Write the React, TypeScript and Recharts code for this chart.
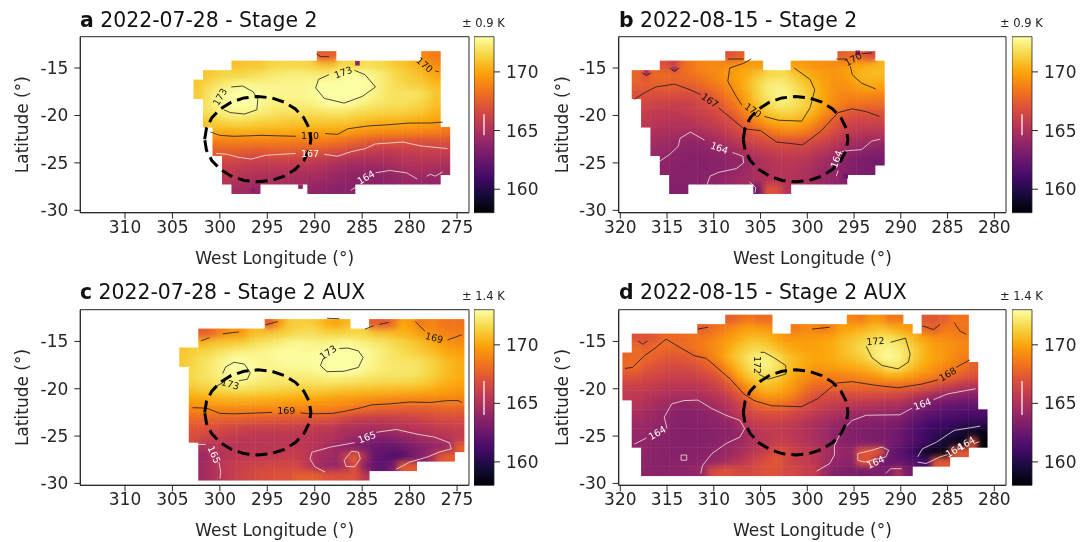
import React from "react";
import {
  ScatterChart,
  Scatter,
  XAxis,
  YAxis,
  ReferenceArea,
  ReferenceDot,
} from "recharts";

type Pair = number[];
type Note = [string, number, number, number];

const FONT = "'DejaVu Sans', sans-serif";
const INK = "#262626";

// inferno, evenly spaced over the colour bar
const infernoStops = ["#000004", "#160b39", "#420a68", "#6a176e", "#932667", "#bc3754", "#dd513a", "#f37819", "#fca50a", "#f6d746", "#fcffa4"];
const tempMin = 158;
const tempMax = 173;
const barTicks = [160, 165, 170];
const latTicks = [-30, -25, -20, -15];
const lonTicksAC = [310, 305, 300, 295, 290, 285, 280, 275];
const lonTicksBD = [320, 315, 310, 305, 300, 295, 290, 285, 280];

// dashed ring, offsets from its centre in degrees
const ringLon = [5.6, 5.41, 4.85, 3.96, 2.8, 1.45, 0, -1.45, -2.8, -3.96, -4.85, -5.41, -5.6, -5.41, -4.85, -3.96, -2.8, -1.45, 0, 1.45, 2.8, 3.96, 4.85, 5.41, 5.6];
const ringLat = [0, 1.16, 2.25, 3.18, 3.9, 4.35, 4.5, 4.35, 3.9, 3.18, 2.25, 1.16, 0, -1.16, -2.25, -3.18, -3.9, -4.35, -4.5, -4.35, -3.9, -3.18, -2.25, -1.16, 0];

// ---- panel a
const aLons = [302.25, 301.25, 300.25, 299.25, 298.25, 297.25, 296.25, 295.25, 294.25, 293.25, 292.25, 291.25, 290.25, 289.25, 288.25, 287.25, 286.25, 285.25, 284.25, 283.25, 282.25, 281.25, 280.25, 279.25, 278.25, 277.25, 276.25];
const aLats = [-13.75, -14.75, -15.75, -16.75, -17.75, -18.75, -19.75, -20.75, -21.75, -22.75, -23.75, -24.75, -25.75, -26.75, -27.75];
const aTemps = [
  [0,0,0,0,0,0,0,0,0,0,0,0,0,167.5,167.5,0,0,0,0,0,0,0,0,0,169,168.5,0],
  [0,0,0,0,170.8,171,171,171.2,171.5,171.5,171.5,171.5,171.3,171,170.8,171.5,171.5,171.6,171.8,171.6,171.4,171,170.8,170.4,169.8,169.2,0],
  [0,171,171.3,171.5,171.5,171.6,171.8,172,172.2,172.3,172.4,172.4,172.3,172.3,172.5,172.7,173,172.9,172.7,172.4,172,171.5,171.2,171,170.5,170,0],
  [171,171.6,172,172.3,172.6,172.7,172.6,172.6,172.6,172.6,172.6,172.6,172.7,173,173.2,173.3,173.2,173.1,172.9,172.4,172,171.7,171.4,171.2,171,170.6,0],
  [171.2,172,172.6,172.9,173.1,173.2,173.1,172.8,172.7,172.7,172.7,172.7,172.8,173.1,173.3,173.3,173.2,173,172.7,172.4,172,171.9,172,172,171.6,171,0],
  [0,172,172.6,172.9,173.2,173.2,173,172.6,172.4,172.4,172.4,172.4,172.5,172.8,173,173.1,172.9,172.6,172.3,172.1,171.9,171.8,171.8,171.6,171.3,170.8,0],
  [0,171.8,172.3,172.5,172.7,172.6,172.4,172.2,172,171.9,171.9,171.8,171.8,171.9,172,172,171.8,171.6,171.5,171.4,171.3,171.3,171.2,171,170.8,170.4,0],
  [0,171,171.3,171.5,171.6,171.5,171.4,171.3,171.2,171.1,171,171,171,171,171,171,170.9,170.7,170.5,170.4,170.3,170.3,170.2,170.1,170,169.8,0],
  [0,0,170.3,170.2,170.3,170.3,170.3,170.2,170.2,170.2,170.1,170.1,170,170,170,169.9,169.7,169.5,169.4,169.2,169.2,169.1,169,169,168.9,168.8,168.5],
  [0,0,168.7,168.8,168.8,168.8,168.8,168.8,168.7,168.7,168.7,168.6,168.6,168.6,168.5,168.3,168,167.7,167.4,167.2,167.1,167.1,167,167,167,167,167],
  [0,0,167.5,167.6,167.6,167.5,167.4,167.4,167.5,167.5,167.5,167.4,167.3,167.2,167,166.8,166.5,166.2,166,165.8,165.7,165.8,165.9,166,166,166,166],
  [0,0,0,166.5,166.4,166.2,166.1,166.1,166.2,166.2,166.1,166,165.9,165.7,165.4,165.1,165,164.9,164.8,164.9,165,165.2,165.3,165.3,165.3,165.3,165.2],
  [0,0,0,165.8,165.7,165.5,165.4,165.3,165.3,165.3,165.2,165.1,165,164.8,164.6,164.4,164.2,164.2,164.1,164.2,164.3,164.5,164.8,164.8,164.8,164.6,164.6],
  [0,0,0,165.4,165.2,165,164.9,164.8,164.8,164.8,164.7,164.6,164.5,164.4,164.2,164,163.8,163.7,163.7,163.7,163.8,164,164.2,164.2,164,164,0],
  [0,0,0,0,164.5,164.5,164,0,0,0,0,0,163.9,163.8,163.7,163.6,163.6,0,0,0,0,0,0,0,0,0,0],
];
const aSpots: Pair[] = [[285.5,-14.5,164],[296.5,-27.9,163.5],[291.5,-27.5,164]];
const aDark: Pair[][] = [
  [[301,-21.74],[300,-22.1],[298.5,-22.2],[295.6,-22.1],[292,-22.2]],
  [[288.9,-21.9],[287.6,-22],[286.5,-21.4],[284.3,-21.1],[282.5,-21],[280,-20.8],[277.8,-20.8],[276.5,-20.7]],
  [[298.8,-17],[297.6,-16.9],[296.5,-17.5],[296,-18.3],[296.1,-19.4],[297.4,-19.85],[298.9,-19.7],[299.6,-19.4]],
  [[288.5,-15.7],[289.6,-16.2],[289.9,-17.1],[289,-18.2],[286.9,-18.7],[285,-18],[283.6,-17],[284.7,-15.7],[285.8,-15.25]],
  [[277.3,-15.3],[276.9,-15.4]],
  [[289.8,-13.5],[289.4,-13.8],[288.5,-13.8]],
];
const aLight: Pair[][] = [
  [[300.4,-24],[299.2,-24.1],[298.1,-24.4],[296.7,-24.6],[295.2,-24.2],[292,-24]],
  [[289,-24.1],[287.6,-24.3],[286.1,-23.8],[284.7,-23.5],[283.6,-23],[280.7,-22.8],[278.9,-23.2],[276,-23.5]],
  [[286.2,-27.9],[285.6,-27.5]],
  [[283.6,-26.05],[282.1,-25.8],[280.3,-26.05],[279.2,-26.7]],
  [[278.2,-26.4],[277.8,-26.2],[277.3,-26.4],[276.5,-25.95]],
];
const aDarkNotes: Note[] = [["173",300,-18.05,-60],["173",287,-15.45,-20],["170",278.4,-14.65,40],["170",290.5,-22.1,0]];
const aLightNotes: Note[] = [["167",290.5,-24.05,0],["164",284.6,-26.5,-30]];

// ---- panel b
const bLons = [318.25, 317.25, 316.25, 315.25, 314.25, 313.25, 312.25, 311.25, 310.25, 309.25, 308.25, 307.25, 306.25, 305.25, 304.25, 303.25, 302.25, 301.25, 300.25, 299.25, 298.25, 297.25, 296.25, 295.25, 294.25, 293.25, 292.25];
const bLats = [-13.75, -14.75, -15.75, -16.75, -17.75, -18.75, -19.75, -20.75, -21.75, -22.75, -23.75, -24.75, -25.75, -26.75, -27.75];
const bTemps = [
  [0,0,0,0,0,0,0,0,0,0,167,167.5,0,0,0,0,0,0,0,0,0,0,167.5,168,167.5,166.5,0],
  [0,0,0,167,166,168,168.5,169,169,169,169.3,169.6,169.7,169.6,0,0,0,169.8,169.6,169.4,169.3,169.2,169.5,169.9,170,170.3,170.5],
  [167.8,167,168,168,167.8,168,168.3,168.6,169,169.3,169.7,170,170.4,171,171.5,171.7,171.6,171,170.5,170.1,169.7,169.5,169.6,170,170.5,170.7,170.6],
  [167.6,167.5,167.6,167.6,167.6,167.5,167.6,168,168.4,168.8,169.3,169.8,170.6,171.5,172.2,172.4,172.2,171.7,171.1,170.5,169.9,169.4,169.3,169.6,170,170.2,170.1],
  [166.8,166.8,166.9,167,166.9,166.8,166.8,167,167.5,168.2,168.8,169.4,170.4,171.4,172.2,172.5,172.5,172,171.4,170.7,170,169.4,169,169,169.2,169.2,169],
  [0,166.5,166.2,166.2,166.1,166.1,166.2,166.5,166.9,167.4,168.2,169,170,171,171.8,172.2,172.2,171.9,171.4,170.8,170,169.2,168.7,168.4,168.3,168.2,168.1],
  [0,165.9,165.7,165.7,165.6,165.7,165.9,166.1,166.4,166.8,167.4,168.2,169.3,170.2,170.9,171.3,171.5,171.3,170.9,170.3,169.4,168.5,167.6,167.1,167,167,167],
  [0,165.6,165.4,165.3,165.2,165.2,165.4,165.6,165.9,166.1,166.6,167.3,168.2,169,169.7,170.1,170.3,170.3,169.9,169.2,168.3,167.4,166.8,166.3,166.2,166.2,166.2],
  [0,0,165,164.9,164.8,164.7,164.7,164.9,165.2,165.5,166,166.5,167,167.6,168.2,168.7,169,168.9,168.6,168,167.3,166.7,166.1,165.7,165.5,165.4,165.4],
  [0,0,164.6,164.5,164.3,164,163.9,164,164.3,164.8,165.2,165.7,166.2,166.5,166.8,167,167,167,166.9,166.6,166.3,165.8,165.3,164.9,164.6,164.4,164.3],
  [0,0,164.2,164.1,163.9,163.7,163.6,163.7,163.9,164,164.3,164.7,165.2,165.6,165.9,166.1,166.2,166.1,166,165.7,165.4,164.9,164.4,164,163.8,163.6,163.4],
  [0,0,0,163.9,163.7,163.6,163.5,163.5,163.6,163.7,163.9,164,164.3,164.8,165.2,165.4,165.5,165.5,165.3,165,164.6,164.2,163.8,163.4,163.2,163,162.9],
  [0,0,0,163.8,163.6,163.5,163.5,163.5,163.6,163.7,163.9,164.1,164.4,164.8,165.1,165.2,165.3,165.2,165,164.7,164.3,164,163.6,163.4,163.2,163,0],
  [0,0,0,0,163.5,163.5,163.5,163.6,163.8,164,164.2,164.4,164.6,164.9,165.1,165.2,165.2,165.1,164.9,164.5,164.2,164,163.6,0,0,0,0],
  [0,0,0,0,163.4,163.4,0,0,0,0,0,0,0,162.5,167,167,165.2,0,0,0,0,0,0,0,0,0,0],
];
const bSpots: Pair[] = [[294.6,-13.4,163.5],[295.9,-26.4,162.5],[317.2,-15.5,165],[314.2,-15.1,165]];
const bDark: Pair[][] = [
  [[318.5,-18.3],[317.4,-17.6],[316.2,-17],[314.2,-16.7],[312.5,-17.3],[311.4,-17.8]],
  [[309.5,-19.2],[308,-20.4],[306.8,-21.4],[305,-21.6],[303.3,-22.8],[300.5,-23.1],[298.6,-21.7],[296.7,-19.7],[295.2,-19.3],[293.7,-19.6],[292.3,-20.1]],
  [[306,-14.05],[306.8,-14.5],[308.3,-15],[308.5,-16.4],[307.6,-18],[307,-18.9]],
  [[304.6,-20.1],[303.1,-20.5],[300.6,-20.6],[299.7,-19.2],[299.2,-17.3],[299.7,-16.2],[301.4,-15]],
  [[295.4,-14.8],[295.2,-15.7],[294.2,-16.6],[292.7,-17.2]],
  [[308.5,-14.05],[306.8,-14.05]],
  [[296.9,-14.05],[295.8,-14.05]],
  [[294.2,-13.5],[293.1,-13.4]],
  [[317.7,-15.5],[317.2,-15.8],[316.7,-15.5]],
  [[314.7,-15],[314.2,-15.35],[313.7,-15]],
];
const bLight: Pair[][] = [
  [[315.9,-24.9],[314.7,-24.1],[313.8,-23.25],[313.6,-22.4],[312.5,-21.75],[311,-22.6]],
  [[308,-23.9],[306.9,-24.3],[306.8,-25],[307.6,-25.6],[309.5,-26],[310.4,-26.4],[310.8,-27.5]],
  [[296.9,-26.4],[296.7,-25.8]],
  [[296.3,-23.8],[295.6,-23.7],[294.2,-23.6],[293.1,-22.7],[292.2,-22.5]],
  [[306.2,-27],[305.5,-27.6],[305.6,-28.15]],
];
const bDarkNotes: Note[] = [["167",310.4,-18.4,35],["170",305.8,-19.45,35],["170",295.1,-14.05,-30]];
const bLightNotes: Note[] = [["164",309.4,-23.4,20],["164",296.9,-24.6,-70]];

// ---- panel c
const cLons = [303.75, 302.75, 301.75, 300.75, 299.75, 298.75, 297.75, 296.75, 295.75, 294.75, 293.75, 292.75, 291.75, 290.75, 289.75, 288.75, 287.75, 286.75, 285.75, 284.75, 283.75, 282.75, 281.75, 280.75, 279.75, 278.75, 277.75, 276.75, 275.75, 274.75];
const cLats = [-13.17, -14.17, -15.17, -16.17, -17.17, -18.17, -19.17, -20.17, -21.17, -22.17, -23.17, -24.17, -25.17, -26.17, -27.17, -28.17, -29.17];
const cTemps = [
  [0,0,0,0,0,0,0,0,0,167.5,169.5,171,171.2,171.3,171,170.3,170,170.5,0,0,167.5,167.3,168,170,169.5,168.5,169,168.5,168.3,168.3],
  [0,0,167.5,168,169,169.5,169.5,170.5,170.8,171,171.2,171.5,171.7,171.8,171.7,171.5,171.4,171.5,171.5,171.4,171,170.8,170.6,170.5,170.2,169.7,169.3,169,168.8,168.7],
  [0,0,170.5,170.8,171,171.1,171.2,171.6,171.9,172.1,172.3,172.6,172.7,172.6,172.5,172.5,172.6,172.8,172.6,172.4,172.2,172,171.7,171.4,171.1,170.7,170.3,169.8,169.4,169.2],
  [171,171.3,171.5,171.7,172,172.3,172.5,172.5,172.6,172.7,172.9,172.9,172.9,172.8,172.9,173.2,173.3,173.3,173.2,172.9,172.6,172.3,172,171.7,171.4,171.1,170.8,170.4,170,169.8],
  [171.1,171.5,171.9,172.2,172.6,173,173.2,172.9,172.7,172.7,172.8,172.9,172.9,172.9,173,173.3,173.4,173.4,173.2,172.9,172.6,172.3,172.1,172,172,171.8,171.4,171,170.5,170.2],
  [0,171.6,171.9,172.2,172.6,173.1,173.2,173,172.7,172.5,172.5,172.6,172.6,172.6,172.7,172.9,173.1,173,172.9,172.6,172.4,172.2,172.1,172.1,172.1,171.8,171.5,171,170.6,170.3],
  [0,171.5,171.8,172,172.3,172.6,172.7,172.5,172.3,172.2,172.1,172.2,172.1,172.1,172.1,172.2,172.2,172.1,172,171.9,171.8,171.7,171.7,171.7,171.6,171.4,171.1,170.7,170.4,170.1],
  [0,170.9,171.1,171.3,171.6,171.7,171.8,171.7,171.6,171.5,171.4,171.3,171.2,171.2,171.2,171.1,171,170.9,170.8,170.7,170.7,170.6,170.6,170.5,170.5,170.4,170.2,170,169.8,169.6],
  [0,170,170.1,170.2,170.4,170.4,170.4,170.4,170.3,170.2,170.2,170.1,170,170,170,169.8,169.6,169.6,169.5,169.3,169.2,169.1,169,169,168.9,168.9,168.9,168.9,168.9,168.8],
  [0,169,169,169,169,169,169,169,169,169,169,168.9,168.9,168.9,168.8,168.8,168.7,168.5,168.2,168,167.8,167.7,167.6,167.5,167.5,167.5,167.6,167.7,167.8,167.7],
  [0,168,167.9,167.8,167.7,167.7,167.7,167.6,167.5,167.4,167.4,167.3,167.3,167.2,167.1,167.1,166.8,166.4,166,165.9,165.8,165.8,165.9,166,166.1,166.3,166.5,166.7,166.7,166.7],
  [0,167.2,167,166.8,166.6,166.4,166.2,166.1,166,166,166,166,165.9,165.8,165.7,165.6,165.4,165,165,164.8,164.8,165,165.1,165.2,165.3,165.5,165.6,165.8,165.9,166],
  [0,166.7,166.4,166.1,165.9,165.7,165.6,165.5,165.4,165.4,165.4,165.4,165.4,165.4,165.3,165.2,165,164.6,164.2,163.8,163.5,163.4,163.6,163.9,164.2,164.6,164.9,165.1,165.3,165.7],
  [0,0,165,165.3,165.3,165.3,165.4,165.4,165.4,165.4,165.5,165.6,165.6,165.5,165.3,164.8,164.2,163.8,163.4,163,162.6,162.4,162.4,162.7,163.2,163.5,163.8,164,164.6,167.5],
  [0,0,164.3,164.8,165.2,165.5,165.6,165.7,165.6,165.7,165.8,165.9,165.9,165.5,164.8,164.6,164.3,166,167.5,165,162.4,162,161.6,161.6,162.6,163.5,164.5,167,167.5,0],
  [0,0,164.5,165,165.5,165.8,166,166.2,166.3,166.5,166.5,166.5,166.3,165.5,164.5,164.1,164,165,167,163.5,162.5,162,163,167.3,167.3,0,0,0,0,0],
  [0,0,164.5,165,165.4,165.8,166.2,166.5,166.7,166.9,167,167,167.5,167.5,167.5,167,167,167,167,165.5,0,0,0,0,0,0,0,0,0,0],
];
const cSpots: Pair[] = [];
const cDark: Pair[][] = [
  [[302.9,-22],[301.4,-22.05],[300,-22.6],[298.5,-22.65],[297.1,-22.6],[294.5,-22.5]],
  [[291.5,-22.55],[290.5,-22.65],[288.1,-22.6],[286.9,-22.4],[285.1,-22],[284,-21.7],[282.1,-21.6],[280,-21.4],[277.8,-21.45],[276,-21.25],[274.9,-21.25],[274.5,-21.45]],
  [[299.7,-18.4],[299.4,-17.7],[298.5,-17.2],[297.4,-17.4],[296.8,-18.3],[297.1,-19],[298,-19.15]],
  [[299.6,-19.3],[300.3,-19.7]],
  [[289.1,-16.8],[289.4,-17.55],[288.7,-18.2],[286.9,-18.15],[285.4,-17.75],[284.9,-16.7],[285.4,-16],[286.5,-15.7],[287.4,-15.75]],
  [[279.4,-12.9],[278.4,-13.9]],
  [[276,-14.85],[274.5,-14.3]],
  [[302,-14.95],[301.1,-14.6]],
  [[299.7,-14.2],[298,-14]],
  [[295.2,-13.25],[293.9,-12.9]],
  [[288.7,-12.55],[287.4,-12.6]],
  [[284.7,-13.7],[283.8,-13.35]],
  [[283.2,-13.2],[282.2,-13]],
];
const cLight: Pair[][] = [
  [[302.6,-25.85],[301.5,-25.9]],
  [[300.1,-27.75],[299.9,-28.8],[300,-29.5]],
  [[285.8,-25.7],[288.3,-26.15],[290.3,-26.7],[290.5,-27.4],[290,-28.25],[288.9,-28.8]],
  [[283.5,-24.6],[281.4,-24.3],[279.2,-24.8],[277.4,-25.1],[275.8,-25.7],[275.6,-26.35],[276.9,-26.7],[278.1,-27.2],[280,-27.75],[281.4,-28.5]],
  [[286.1,-26.6],[285.4,-26.7],[285.2,-27.4],[285.8,-28.25],[286.7,-28.2],[286.9,-27.55],[286.1,-26.6]],
];
const cDarkNotes: Note[] = [["173",298.9,-19.5,15],["173",288.6,-16.15,-35],["169",277.4,-14.6,15],["169",293,-22.35,0]];
const cLightNotes: Note[] = [["165",300.6,-26.95,65],["165",284.5,-25.1,-20]];

// ---- panel d
const dLons = [319.25, 318.25, 317.25, 316.25, 315.25, 314.25, 313.25, 312.25, 311.25, 310.25, 309.25, 308.25, 307.25, 306.25, 305.25, 304.25, 303.25, 302.25, 301.25, 300.25, 299.25, 298.25, 297.25, 296.25, 295.25, 294.25, 293.25, 292.25, 291.25, 290.25, 289.25, 288.25, 287.25, 286.25, 285.25, 284.25, 283.25, 282.25, 281.25];
const dLats = [-12.7, -13.7, -14.7, -15.7, -16.7, -17.7, -18.7, -19.7, -20.7, -21.7, -22.7, -23.7, -24.7, -25.7, -26.7, -27.7, -28.7];
const dTemps = [
  [0,0,0,0,0,0,0,0,0,0,0,167.5,168,168.5,168,168,0,0,0,0,0,0,0,0,169,168.5,169.5,169.5,168.5,168.5,0,0,167.3,167.3,167.5,168.5,168.3],
  [0,0,0,0,0,0,0,0,167.5,168,168.5,169,169.5,169.8,169.8,169.5,0,0,168.5,169,169,168.5,169,169.8,170,170.3,170.6,170.8,170.6,170.2,169.6,0,167.8,167.5,168.5,168.5,168.2],
  [0,167,167,167.3,168,168,168,168.3,168.5,168.8,169.3,169.7,170.2,170.6,170.7,170.5,170,169.5,169.6,169.6,169.7,169.8,170,170.5,170.9,171.2,171.6,171.9,171.9,171.5,171,170.3,169.8,169.4,169.2,169,168.8],
  [0,168,167.6,168,167.9,167.8,168,168.2,168.6,169,169.5,170.2,170.9,171.4,171.5,171.3,170.7,170.2,170,169.8,169.8,170,170.2,170.7,171.1,171.6,172,172.4,172.5,172.3,171.7,171,170.3,169.7,169.5,169.3,169],
  [167.8,168,167.9,167.6,167.3,167.2,167.3,167.5,168,168.8,169.5,170.5,171.3,172,172.4,172.4,171.8,171,170.5,170.2,170,170,170.2,170.5,170.9,171.2,171.8,172.5,172.8,172.5,171.8,171,170.3,169.8,169.5,169.1,168.6],
  [167.9,168,167.2,167,166.7,166.6,166.6,166.8,167.2,167.7,168.5,169.7,170.8,171.7,172.3,172.5,172,171.1,170.5,170,169.7,169.7,169.8,170,170.2,170.4,170.7,171.2,172,172,171.2,170.5,170,169.4,169,168.7,168.2,167.6],
  [167,167,166.6,166.5,166.2,166,166,166.1,166.4,166.7,167.4,168.6,170,171,171.6,171.7,171.3,170.6,169.9,169.4,169,168.8,168.7,168.8,169,169.2,169.4,169.8,170.2,170.2,169.8,169.4,169,168.6,168.2,167.8,167.3,167],
  [166.2,166.2,166,165.8,165.6,165.5,165.5,165.5,165.7,166,166.4,167.3,168.5,169.7,170.5,170.8,170.6,170.1,169.4,168.6,168,167.9,168,168,168,168,168,168,168,168,167.9,167.7,167.3,166.8,166.3,165.9,165.5,165.2],
  [165.6,165.6,165.4,165.2,165,164.9,164.8,164.9,165,165.3,165.6,166.2,167.2,168.3,169.3,169.8,169.7,169.3,168.7,167.7,167,166.8,166.7,166.7,166.7,166.7,166.7,166.6,166.6,166.4,166,165.5,165,164.5,164.1,163.9,163.6,163.5],
  [0,165.3,165,164.7,164.4,164.1,163.9,164,164.2,164.5,165,165.4,166.2,167.1,167.9,168.2,168.2,168,167.4,166.9,166.5,166.1,165.9,165.7,165.6,165.5,165.3,165.2,165,164.9,164.4,163.8,163.2,162.8,162.6,162.4,162.3,162.3],
  [0,164.8,164.6,164.3,164,163.7,163.5,163.6,163.7,163.8,164.2,164.9,165.6,166.2,166.6,166.8,166.9,166.7,166.3,166,165.6,165.3,165,164.7,164.4,164.2,164.1,164,164,163.9,163.2,162.6,162.2,161.9,161.7,161.5,161.4,161.4,161.5],
  [0,164.4,164.2,164,163.8,163.6,163.5,163.5,163.6,163.7,163.8,163.9,164.7,165.6,165.9,166,166,165.9,165.6,165.2,165,164.6,164.2,163.9,163.6,163.5,163.4,163.4,163.3,163,162.5,161.8,161.3,161,160.9,160.7,160.5,160.4,160.2],
  [0,164.1,164,163.8,163.7,163.5,163.5,163.4,163.4,163.5,163.6,163.7,164,164.8,165.3,165.6,165.7,165.6,165.4,165.1,164.8,164.4,163.9,163.6,163.4,163.3,163.2,163.1,163,162.7,162,161.4,160.9,160.5,160.2,159.7,159.2,158.8,158.5],
  [0,164,163.9,163.7,163.6,163.5,163.4,163.4,163.5,163.6,163.8,164,164.4,164.8,165.2,165.6,166,165.9,165.6,165.3,165,164.6,164,163.7,163.5,163.4,163.3,163.2,163,162.7,162,161.4,160.8,160,159.3,158.8,158.5,167,158.2],
  [0,0,163.9,163.7,163.6,163.5,163.5,163.5,163.6,163.8,164,164.3,164.7,165.2,165.7,166.2,166.9,166.6,166.1,165.8,165.5,164.9,164.4,164.1,163.9,167,167.2,167.3,162.8,162,161.4,160.4,159,158.6,158.4,167,167.3],
  [0,0,163.7,163.6,163.6,163.6,163.7,163.7,163.8,164,164.3,164.8,165.3,165.9,166.5,167,167.3,166.5,166,165.8,165.5,164.8,164,163.8,163.6,167,167,163,162.5,162.3,162,161.6,160.8,167,167.2],
  [0,0,163.7,163.7,163.7,163.7,163.8,163.9,164,166.5,167,167,166.5,166.5,166.8,167,167,166.5,166.5,166,165.8,164.5,163.5,163.3,163.2,163,163,163.2,163.2,165,163],
];
const dSpots: Pair[] = [];
const dDark: Pair[][] = [
  [[319.5,-17.85],[318.7,-17.75],[317.4,-16.5],[316.2,-15.65],[315.1,-14.75],[313.6,-15.65],[312.1,-16.5],[310.8,-16.8],[309.5,-17.9],[308.2,-19],[306.8,-20.55],[305.7,-21.25],[303.8,-21.8],[300.6,-21.9],[298.9,-21.05],[296.9,-19.4],[295.2,-19.25],[292.6,-19.65],[290.3,-19.9],[287.7,-19.5],[286,-19.05]],
  [[284.1,-17.75],[282.6,-16.95]],
  [[291.1,-15.1],[289.5,-14.65],[289,-16.35],[289.2,-17.2],[290.3,-17.9],[292,-17.55],[293.1,-16.7],[293.7,-15.5]],
  [[305,-16.15],[304.6,-16.15],[303.6,-16.7],[302.3,-17.55],[302.3,-18.45],[304.2,-19],[305.2,-18.45]],
  [[311.7,-13.7],[310.6,-13.5]],
  [[299.5,-13.7],[297.6,-13.5]],
  [[287.7,-13.35],[286.5,-13.75],[285.8,-13.2]],
  [[284.3,-13],[283.7,-13.9],[283,-14.25]],
  [[318.1,-14.95],[317.6,-15.3],[317.1,-14.95]],
];
const dLight: Pair[][] = [
  [[318.5,-25.85],[317.2,-25.2]],
  [[315,-24.2],[315.3,-23],[314.5,-21.6],[313.2,-21.25],[311.7,-21.2],[310.2,-22.1],[308.7,-22.8],[307.2,-23.35],[306.7,-24.2],[307.2,-25.1],[308.7,-25.8],[310.2,-26.85],[311.2,-28.1],[311.4,-28.95]],
  [[299,-28.7],[297.6,-27.9],[297.1,-27],[297.1,-26],[296.3,-24.4],[295.2,-23.35],[293.7,-22.8],[290.1,-22.75],[288.8,-22.05]],
  [[286.5,-21.15],[285,-20.55],[282,-20]],
  [[294.6,-26.85],[293.1,-26.5],[292,-26.15],[291.3,-26.5],[291.6,-27.2],[293.9,-27.75],[294.6,-27.55],[294.6,-26.85]],
  [[288.2,-27.2],[287.7,-26.35],[286.2,-25.65],[284.3,-24.4],[281.5,-23.95]],
  [[288.2,-27.75],[287.3,-27.9],[285.8,-27.2],[285,-26.95]],
  [[282.2,-25.8],[281.6,-25.6]],
  [[313.5,-27],[312.9,-27],[312.9,-27.55],[313.5,-27.55],[313.5,-27]],
  [[291.6,-28.95],[291.1,-28.45],[289.9,-28.45]],
];
const dDarkNotes: Note[] = [["172",292.7,-14.95,-5],["172",305.3,-17.5,90],["168",285,-18.45,-30]];
const dLightNotes: Note[] = [["164",316.05,-24.65,-30],["164",287.7,-21.6,-20],["164",292.7,-27.75,-25],["164",284.3,-26.5,-30],["164",283,-25.75,-30]];

function inferno(t: number) {
  const u = Math.max(0, Math.min(1, (t - tempMin) / (tempMax - tempMin))) * (infernoStops.length - 1);
  const i = Math.min(Math.floor(u), infernoStops.length - 2);
  const a = infernoStops[i];
  const b = infernoStops[i + 1];
  const mix = (s: number) => {
    const p = parseInt(a.slice(s, s + 2), 16);
    const q = parseInt(b.slice(s, s + 2), 16);
    return Math.round(p + (q - p) * (u - i));
  };
  return `rgb(${mix(1)},${mix(3)},${mix(5)})`;
}

function buildCells(lons: number[], lats: number[], rows: number[][]) {
  const cells: { lon: number; lat: number; temp: number }[] = [];
  rows.forEach((row, r) =>
    row.forEach((temp, c) => {
      if (temp > 0) cells.push({ lon: lons[c], lat: lats[r], temp });
    })
  );
  return cells;
}

const toPoints = (line: Pair[]) => line.map(([lon, lat]) => ({ lon, lat }));
const NoPoint = () => <g />;

const SpotShape = (s: any) => (
  <rect x={s.cx - 2.3} y={s.cy - 2.3} width={4.6} height={4.6} fill={inferno(s.payload.temp)} />
);

interface PanelProps {
  left: number;
  top: number;
  width: number;
  height: number;
  axisWidth: number;
  axisHeight: number;
  plotTop: number;
  rightGap: number;
  labelGap: number;
  lonDomain: [number, number];
  latDomain: [number, number];
  lonTicks: number[];
  lons: number[];
  lats: number[];
  temps: number[][];
  spots: Pair[];
  dark: Pair[][];
  light: Pair[][];
  darkNotes: Note[];
  lightNotes: Note[];
  ringCentre: number;
}

function Panel(p: PanelProps) {
  const cells = buildCells(p.lons, p.lats, p.temps);
  const spots = p.spots.map(([lon, lat, temp]) => ({ lon, lat, temp }));
  const plotW = p.width - p.axisWidth - p.rightGap;
  const plotH = p.height - p.plotTop - p.axisHeight;
  const cellW = plotW / (p.lonDomain[1] - p.lonDomain[0]);
  const cellH = plotH / (p.latDomain[1] - p.latDomain[0]);
  const ring = ringLon.map((d, i) => ({ lon: p.ringCentre + d, lat: -22.5 + ringLat[i] }));

  const CellShape = (s: any) => (
    <rect
      x={s.cx - cellW / 2 - 0.25}
      y={s.cy - cellH / 2 - 0.25}
      width={cellW + 0.5}
      height={cellH + 0.5}
      fill={inferno(s.payload.temp)}
    />
  );

  const note = (n: Note, colour: string) => (
    <ReferenceDot
      key={`${n[0]}-${n[1]}`}
      x={n[1]}
      y={n[2]}
      r={0}
      ifOverflow="visible"
      shape={(s: any) => (
        <text
          x={s.cx}
          y={s.cy}
          transform={`rotate(${n[3]} ${s.cx} ${s.cy})`}
          textAnchor="middle"
          dominantBaseline="central"
          fontSize={9.5}
          fontFamily={FONT}
          fill={colour}
        >
          {n[0]}
        </text>
      )}
    />
  );

  return (
    <div style={{ position: "absolute", left: p.left, top: p.top }}>
      <ScatterChart
        width={p.width}
        height={p.height}
        margin={{ top: p.plotTop, right: p.rightGap, bottom: 0, left: 0 }}
      >
        <XAxis
          type="number"
          dataKey="lon"
          reversed
          domain={p.lonDomain}
          allowDataOverflow
          ticks={p.lonTicks}
          interval={0}
          height={p.axisHeight}
          tickSize={6}
          tickMargin={2}
          stroke={INK}
          tick={{ fontSize: 17, fontFamily: FONT, fill: INK }}
          label={{ value: "West Longitude (°)", position: "insideBottom", offset: p.labelGap, fontSize: 17, fontFamily: FONT, fill: INK }}
        />
        <YAxis
          type="number"
          dataKey="lat"
          domain={p.latDomain}
          allowDataOverflow
          ticks={latTicks}
          interval={0}
          width={p.axisWidth}
          tickSize={6}
          tickMargin={6}
          stroke={INK}
          tick={{ fontSize: 17, fontFamily: FONT, fill: INK }}
          label={{ value: "Latitude (°)", angle: -90, position: "insideLeft", offset: 22, style: { textAnchor: "middle" }, fontSize: 17, fontFamily: FONT, fill: INK }}
        />
        <Scatter className="heat-cells" data={cells} shape={CellShape} isAnimationActive={false} />
        <Scatter data={spots} shape={SpotShape} isAnimationActive={false} />
        {p.dark.map((line, i) => (
          <Scatter key={`d${i}`} data={toPoints(line)} shape={NoPoint} line={{ stroke: "#1a1a1a", strokeWidth: 0.8 }} isAnimationActive={false} />
        ))}
        {p.light.map((line, i) => (
          <Scatter key={`l${i}`} data={toPoints(line)} shape={NoPoint} line={{ stroke: "#f4e6e6", strokeWidth: 0.8 }} isAnimationActive={false} />
        ))}
        <Scatter data={ring} shape={NoPoint} line={{ stroke: "#000", strokeWidth: 3, strokeDasharray: "12 6" }} isAnimationActive={false} />
        {p.darkNotes.map((n) => note(n, "#111"))}
        {p.lightNotes.map((n) => note(n, "#fff"))}
        <ReferenceArea
          x1={p.lonDomain[0]}
          x2={p.lonDomain[1]}
          y1={p.latDomain[0]}
          y2={p.latDomain[1]}
          fill="none"
          stroke={INK}
          strokeWidth={1}
          ifOverflow="visible"
        />
      </ScatterChart>
    </div>
  );
}

function ColourBar(p: { left: number; top: number; height: number; plotTop: number; axisHeight: number; spread: number[] }) {
  const bar = p.spread.map((temp) => ({ x: 0.5, temp }));
  return (
    <div style={{ position: "absolute", left: p.left, top: p.top }}>
      <ScatterChart width={79} height={p.height} margin={{ top: p.plotTop, right: 0, bottom: p.axisHeight, left: 0 }}>
        <XAxis type="number" dataKey="x" domain={[0, 1]} hide />
        <YAxis
          type="number"
          dataKey="temp"
          orientation="right"
          domain={[tempMin, tempMax]}
          ticks={barTicks}
          interval={0}
          width={59}
          tickSize={6}
          tickMargin={6}
          axisLine={false}
          stroke={INK}
          tick={{ fontSize: 17, fontFamily: FONT, fill: INK }}
        />
        <ReferenceArea x1={0} x2={1} y1={tempMin} y2={tempMax} fill="url(#infernoBar)" fillOpacity={1} stroke={INK} strokeWidth={0.8} />
        <Scatter data={bar} shape={NoPoint} line={{ stroke: "#fff", strokeWidth: 1.2 }} isAnimationActive={false} />
      </ScatterChart>
    </div>
  );
}

function Heading(p: { left: number; top: number; tag: string; text: string }) {
  return (
    <div style={{ position: "absolute", left: p.left, top: p.top, fontFamily: FONT, fontSize: 20.4, color: "#111", whiteSpace: "nowrap", lineHeight: "22px" }}>
      <b>{p.tag}</b> {p.text}
    </div>
  );
}

function Spread(p: { left: number; top: number; text: string }) {
  return (
    <div style={{ position: "absolute", left: p.left, top: p.top, fontFamily: FONT, fontSize: 11.5, color: "#222", whiteSpace: "nowrap", lineHeight: "12px" }}>
      {p.text}
    </div>
  );
}

const domainAC: [number, number] = [273.74, 314.71];
const domainBD: [number, number] = [278.75, 320.17];
const latDomainTop: [number, number] = [-30.25, -11.7];
const latDomainBottom: [number, number] = [-30.2, -11.65];

export default function App() {
  return (
    <div style={{ position: "fixed", left: 0, top: 0, width: 1091, height: 542, background: "#fff", overflow: "hidden", filter: "blur(0.35px)" }}>
      <style>{`.heat-cells{filter:url(#smoothCells)}`}</style>
      <svg width="0" height="0" style={{ position: "absolute" }}>
        <defs>
          <linearGradient id="infernoBar" x1="0" y1="1" x2="0" y2="0">
            {infernoStops.map((c, i) => (
              <stop key={c} offset={i / (infernoStops.length - 1)} stopColor={c} />
            ))}
          </linearGradient>
          <filter id="smoothCells" colorInterpolationFilters="sRGB" x="-5%" y="-5%" width="110%" height="110%">
            <feGaussianBlur in="SourceGraphic" stdDeviation="3" result="soft" />
            <feComponentTransfer in="soft" result="solid">
              <feFuncA type="linear" slope="20" />
            </feComponentTransfer>
            <feComposite in="solid" in2="SourceAlpha" operator="in" />
          </filter>
        </defs>
      </svg>

      <Panel left={0} top={0} width={474} height={272} axisWidth={80.3} axisHeight={59.3} plotTop={36.7} rightGap={5} labelGap={8} lonDomain={domainAC} latDomain={latDomainTop} lonTicks={lonTicksAC} lons={aLons} lats={aLats} temps={aTemps} spots={aSpots} dark={aDark} light={aLight} darkNotes={aDarkNotes} lightNotes={aLightNotes} ringCentre={296} />
      <Panel left={540} top={0} width={472} height={272} axisWidth={78.7} axisHeight={59.3} plotTop={36.7} rightGap={6} labelGap={8} lonDomain={domainBD} latDomain={latDomainTop} lonTicks={lonTicksBD} lons={bLons} lats={bLats} temps={bTemps} spots={bSpots} dark={bDark} light={bLight} darkNotes={bDarkNotes} lightNotes={bLightNotes} ringCentre={301.25} />
      <Panel left={0} top={272} width={474} height={270} axisWidth={80.3} axisHeight={56.7} plotTop={37.7} rightGap={5} labelGap={6} lonDomain={domainAC} latDomain={latDomainBottom} lonTicks={lonTicksAC} lons={cLons} lats={cLats} temps={cTemps} spots={cSpots} dark={cDark} light={cLight} darkNotes={cDarkNotes} lightNotes={cLightNotes} ringCentre={296} />
      <Panel left={540} top={272} width={472} height={270} axisWidth={78.7} axisHeight={56.7} plotTop={37.7} rightGap={6} labelGap={6} lonDomain={domainBD} latDomain={latDomainBottom} lonTicks={lonTicksBD} lons={dLons} lats={dLats} temps={dTemps} spots={dSpots} dark={dDark} light={dLight} darkNotes={dDarkNotes} lightNotes={dLightNotes} ringCentre={301.25} />

      <ColourBar left={474} top={0} height={272} plotTop={36.7} axisHeight={59.3} spread={[164.6, 166.4]} />
      <ColourBar left={1012} top={0} height={272} plotTop={36.7} axisHeight={59.3} spread={[164.6, 166.4]} />
      <ColourBar left={474} top={272} height={270} plotTop={37.7} axisHeight={56.7} spread={[164, 166.9]} />
      <ColourBar left={1012} top={272} height={270} plotTop={37.7} axisHeight={56.7} spread={[164, 166.9]} />

      <Heading left={80} top={9} tag="a" text="2022-07-28 - Stage 2" />
      <Heading left={619} top={9} tag="b" text="2022-08-15 - Stage 2" />
      <Heading left={80} top={281} tag="c" text="2022-07-28 - Stage 2 AUX" />
      <Heading left={619} top={281} tag="d" text="2022-08-15 - Stage 2 AUX" />

      <Spread left={462} top={17} text="± 0.9 K" />
      <Spread left={1000} top={17} text="± 0.9 K" />
      <Spread left={462} top={290} text="± 1.4 K" />
      <Spread left={1000} top={290} text="± 1.4 K" />
    </div>
  );
}
